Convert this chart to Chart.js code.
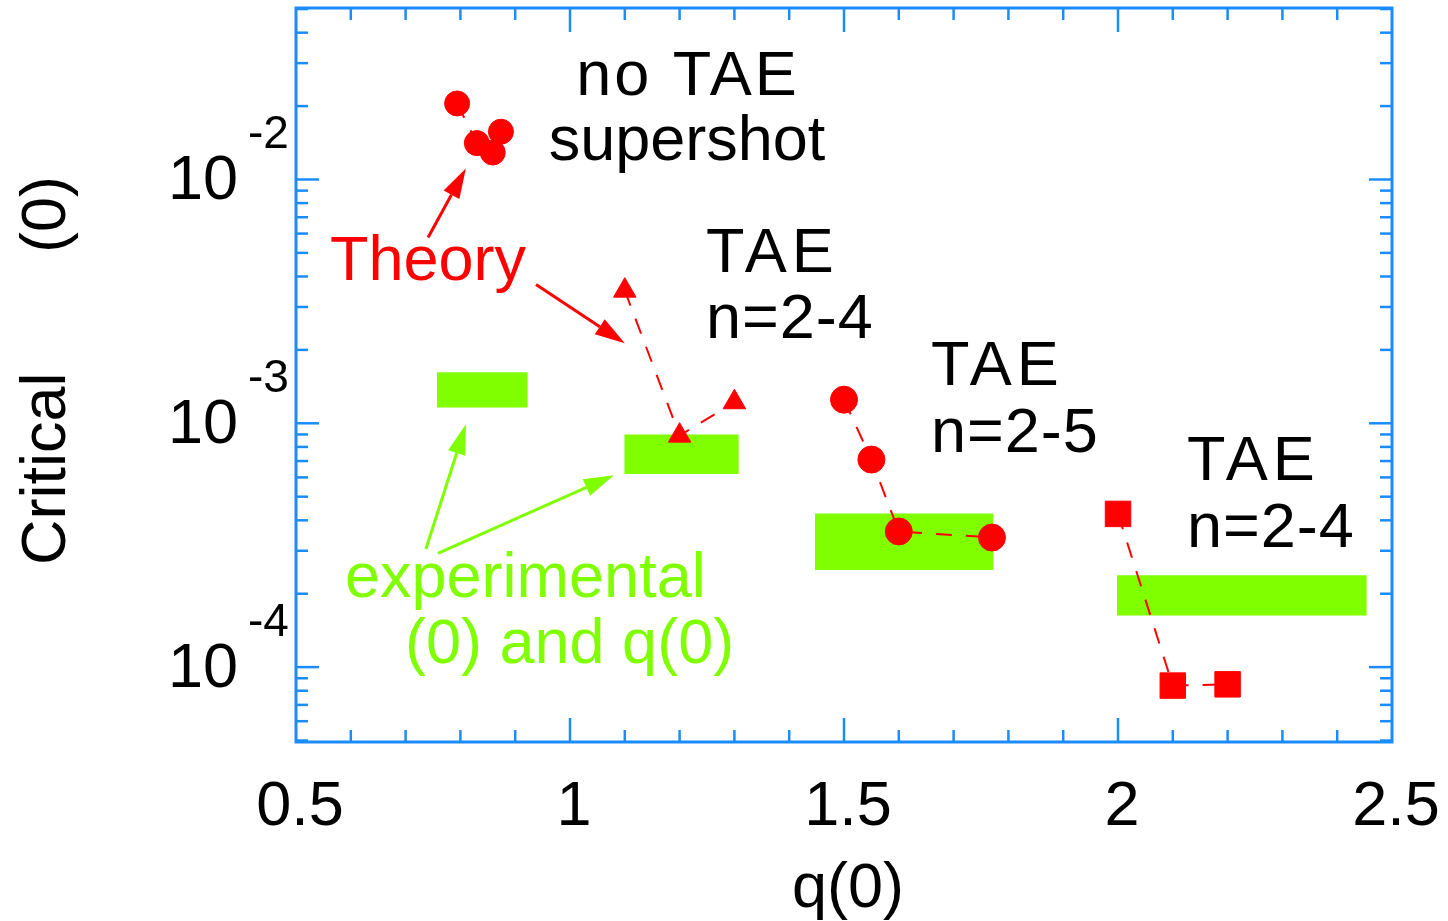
<!DOCTYPE html>
<html>
<head>
<meta charset="utf-8">
<script src="https://cdn.jsdelivr.net/npm/chart.js@4.4.1/dist/chart.umd.min.js"></script>
<style>
html, body { margin: 0; padding: 0; background: #fff; }
#wrap { width: 1448px; height: 921px; }
</style>
</head>
<body>
<div id="wrap"><canvas id="chart" width="1448" height="921"></canvas></div>
<script>
// theory: no TAE supershot
const superQ = [0.794, 0.830, 0.859, 0.874];
const superBeta = [0.0205, 0.0141, 0.0129, 0.0157];
// theory: TAE n=2-4 (triangles)
const taeAQ = [1.10, 1.20, 1.30];
const taeABeta = [3.5e-3, 8.9e-4, 1.22e-3];
// theory: TAE n=2-5 (circles)
const taeBQ = [1.50, 1.55, 1.60, 1.77];
const taeBBeta = [1.25e-3, 7.1e-4, 3.6e-4, 3.4e-4];
// theory: TAE n=2-4 (squares)
const taeCQ = [2.0, 2.1, 2.2];
const taeCBeta = [4.25e-4, 8.4e-5, 8.5e-5];

// experimental ranges (green boxes)
const expQLow = [0.757, 1.099, 1.447, 1.998];
const expQHigh = [0.923, 1.308, 1.773, 2.454];
const expBetaLow = [1.16e-3, 6.2e-4, 2.5e-4, 1.63e-4];
const expBetaHigh = [1.62e-3, 9.0e-4, 4.27e-4, 2.38e-4];

// arrows [fromQ, fromBeta, toQ, toBeta]
const theoryArrows = [[0.741, 5.78e-3, 0.810, 0.0111], [0.938, 3.71e-3, 1.100, 2.13e-3]];
const expArrows = [[0.737, 3.05e-4, 0.810, 9.9e-4], [0.759, 2.93e-4, 1.080, 6.12e-4]];

const xTicks = [0.5, 1, 1.5, 2, 2.5];
const xTickLabels = ['0.5', '1', '1.5', '2', '2.5'];
const yTicks = [1e-4, 1e-3, 1e-2];
const yTickExp = ['-4', '-3', '-2'];

const RED = '#ff0000';
const GREEN = '#80ff00';
const AXIS = '#1a8cff';
const FONT = '"Liberation Sans", Arial, sans-serif';

const pts = (xs, ys) => xs.map((x, i) => ({ x: x, y: ys[i] }));

function theory(xs, ys, style, r) {
    return {
        data: pts(xs, ys),
        borderColor: RED,
        borderWidth: 2,
        borderDash: [16, 14],
        pointStyle: style,
        pointRadius: r,
        pointBackgroundColor: RED,
        pointBorderColor: RED,
        pointBorderWidth: 1,
        fill: false
    };
}

const datasets = [
    theory(superQ, superBeta, 'circle', 12.5),
    theory(taeAQ, taeABeta, 'triangle', 13),
    theory(taeBQ, taeBBeta, 'circle', 13.5),
    theory(taeCQ, taeCBeta, 'rect', 18)
];

// green boxes: top edge filled down to the lower value
expQLow.forEach((q0, i) => {
    datasets.push({
        data: [{ x: q0, y: expBetaHigh[i] }, { x: expQHigh[i], y: expBetaHigh[i] }],
        borderColor: GREEN,
        borderWidth: 0,
        pointRadius: 0,
        backgroundColor: GREEN,
        fill: { value: expBetaLow[i] }
    });
});

function arrow(ctx, x0, y0, x1, y1, color) {
    const ang = Math.atan2(y1 - y0, x1 - x0);
    const head = 30, half = 9;
    const bx = x1 - head * Math.cos(ang), by = y1 - head * Math.sin(ang);
    ctx.strokeStyle = color;
    ctx.fillStyle = color;
    ctx.lineWidth = 3;
    ctx.beginPath();
    ctx.moveTo(x0, y0);
    ctx.lineTo(bx, by);
    ctx.stroke();
    ctx.beginPath();
    ctx.moveTo(x1, y1);
    ctx.lineTo(bx + half * Math.sin(ang), by - half * Math.cos(ang));
    ctx.lineTo(bx - half * Math.sin(ang), by + half * Math.cos(ang));
    ctx.closePath();
    ctx.fill();
}

const decor = {
    id: 'decor',
    afterDraw(chart) {
        const { ctx, chartArea: a } = chart;
        const x = chart.scales.x, y = chart.scales.y;
        ctx.save();

        theoryArrows.forEach(r => arrow(ctx, x.getPixelForValue(r[0]), y.getPixelForValue(r[1]),
            x.getPixelForValue(r[2]), y.getPixelForValue(r[3]), RED));
        expArrows.forEach(r => arrow(ctx, x.getPixelForValue(r[0]), y.getPixelForValue(r[1]),
            x.getPixelForValue(r[2]), y.getPixelForValue(r[3]), GREEN));

        // frame and inward ticks
        ctx.strokeStyle = AXIS;
        ctx.lineWidth = 3;
        ctx.strokeRect(a.left, a.top, a.right - a.left, a.bottom - a.top);
        ctx.lineWidth = 2.5;
        const seg = (x0, y0, x1, y1) => { ctx.beginPath(); ctx.moveTo(x0, y0); ctx.lineTo(x1, y1); ctx.stroke(); };
        for (let i = 6; i <= 24; i++) {
            const px = x.getPixelForValue(i / 10);
            const len = i % 5 === 0 ? 24 : 12;
            seg(px, a.bottom, px, a.bottom - len);
            seg(px, a.top, px, a.top + len);
        }
        for (let e = -5; e <= -2; e++) {
            for (let m = 1; m <= 9; m++) {
                const v = m * Math.pow(10, e);
                if (v <= y.min || v >= y.max) continue;
                const py = y.getPixelForValue(v);
                const len = m === 1 ? 23 : 12;
                seg(a.left, py, a.left + len, py);
                seg(a.right, py, a.right - len, py);
            }
        }

        // tick labels
        ctx.fillStyle = '#000';
        ctx.font = '63px ' + FONT;
        ctx.textAlign = 'center';
        ctx.textBaseline = 'alphabetic';
        xTicks.forEach((v, i) => ctx.fillText(xTickLabels[i], x.getPixelForValue(v) + 4, 825));
        yTicks.forEach((v, i) => {
            const py = y.getPixelForValue(v);
            ctx.font = '63px ' + FONT;
            ctx.textAlign = 'right';
            ctx.fillText('10', 238, py + 20);
            ctx.font = '46px ' + FONT;
            ctx.textAlign = 'left';
            ctx.fillText(yTickExp[i], 248, py - 31);
        });

        // axis titles
        ctx.font = '63px ' + FONT;
        ctx.textAlign = 'center';
        ctx.fillText('q(0)', 848, 907);
        ctx.save();
        ctx.translate(65, 565);
        ctx.rotate(-Math.PI / 2);
        ctx.textAlign = 'left';
        ctx.fillText('Critical', 0, 0);
        ctx.fillText('(0)', 312, 0);
        ctx.restore();

        // annotations
        ctx.textAlign = 'center';
        ctx.letterSpacing = '3px';
        ctx.fillText('no TAE', 688, 95);
        ctx.letterSpacing = '0px';
        ctx.fillText('supershot', 687, 160);
        ctx.textAlign = 'left';
        ctx.letterSpacing = '5px';
        ctx.fillText('TAE', 706, 272);
        ctx.fillText('TAE', 931, 385);
        ctx.fillText('TAE', 1187, 480);
        ctx.letterSpacing = '1px';
        ctx.fillText('n=2-4', 706, 338);
        ctx.fillText('n=2-5', 931, 452);
        ctx.fillText('n=2-4', 1187, 547);
        ctx.letterSpacing = '0px';
        ctx.fillStyle = RED;
        ctx.fillText('Theory', 330, 280);
        ctx.fillStyle = GREEN;
        ctx.fillText('experimental', 345, 597);
        ctx.fillText('(0) and q(0)', 405, 663);

        ctx.restore();
    }
};

new Chart(document.getElementById('chart'), {
    type: 'line',
    data: { datasets: datasets },
    options: {
        responsive: false,
        animation: false,
        layout: { autoPadding: false, padding: { left: 296, right: 56, top: 8, bottom: 179 } },
        scales: {
            x: { type: 'linear', min: 0.5, max: 2.5, display: false },
            y: { type: 'logarithmic', min: 4.93e-5, max: 5.05e-2, display: false }
        },
        plugins: {
            legend: { display: false },
            tooltip: { enabled: false }
        }
    },
    plugins: [decor]
});
</script>
</body>
</html>
